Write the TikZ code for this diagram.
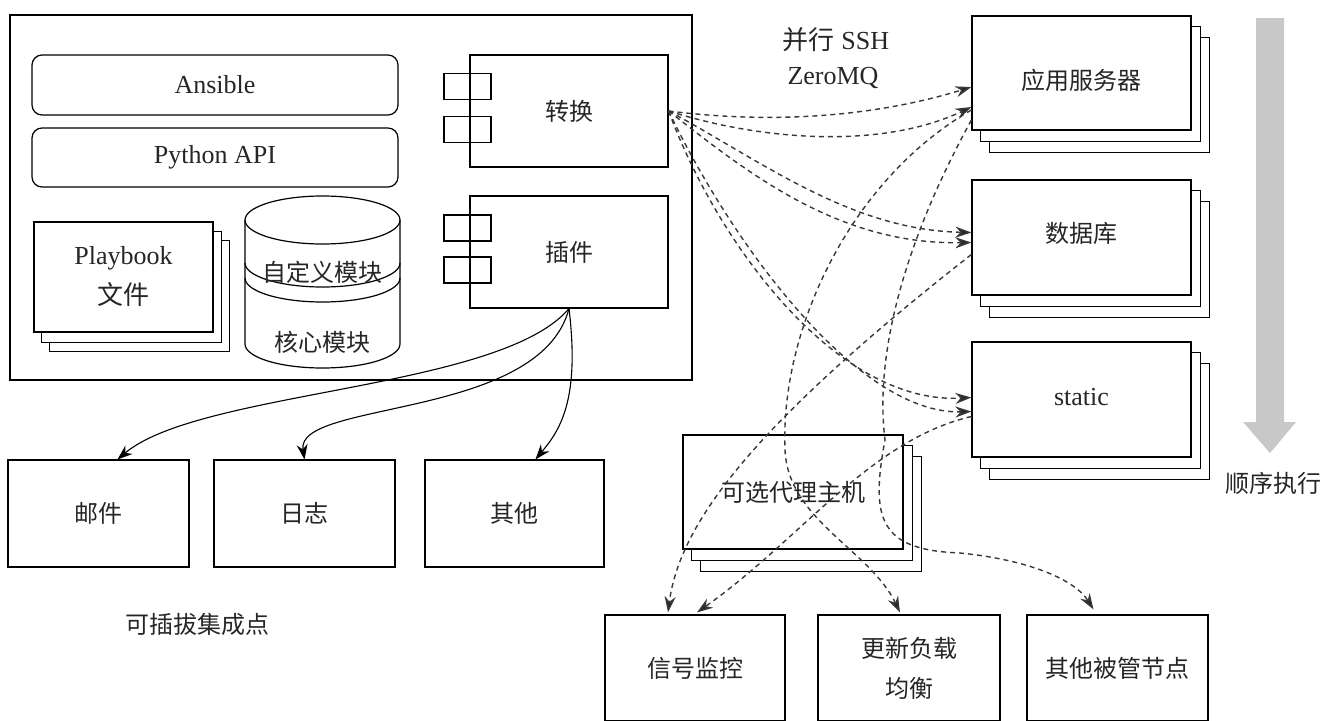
\documentclass[tikz,border=0pt]{standalone}
\usepackage{fontspec}
\setmainfont{Liberation Serif}
\newfontfamily\cjk{Noto Sans CJK SC}
\usetikzlibrary{arrows.meta,calc,backgrounds}
\begin{document}
\begin{tikzpicture}[x=1pt,y=-1pt,line width=1.2pt,
  box/.style={draw, fill=white, inner sep=0pt, text=black!85},
  zh/.style={font=\cjk\fontsize{24}{28}\selectfont, text=black!85},
  en/.style={font=\fontsize{26}{30}\selectfont, text=black!85},
  backsheet/.style={draw, fill=white},
  solidarr/.style={-{Stealth[length=15pt,width=11pt]}, line width=1.1pt},
  dasharr/.style={-{Stealth[length=16pt,width=11pt,fill=black!85]}, dash pattern=on 5pt off 4pt, line width=1.4pt, draw=black!78},
  port/.style={draw, minimum width=47pt, minimum height=26pt, inner sep=0pt},
]
\useasboundingbox (0,0) rectangle (1338,720);

% ---------- left frame ----------
\node[draw, minimum width=682pt, minimum height=365pt, inner sep=0pt] (frame) at (351,197.5) {};
\node[box, rounded corners=10pt, minimum width=366pt, minimum height=60pt, en] (ans) at (215,85) {Ansible};
\node[box, rounded corners=10pt, minimum width=366pt, minimum height=59pt, en] (py) at (215,157.5) {Python API};

% playbook stack
\node[box, minimum width=179pt, minimum height=110pt, align=center, font=\fontsize{26}{40}\selectfont] (pb) at (123.5,277) {Playbook\\{\cjk 文件}};
\begin{scope}[on background layer]
  \draw[backsheet] ($(pb.north west)+(16,19)$) rectangle ($(pb.south east)+(16,19)$);
  \draw[backsheet] ($(pb.north west)+(8,9.5)$) rectangle ($(pb.south east)+(8,9.5)$);
\end{scope}

% cylinder
\draw[fill=white] (245,220) -- (245,344)
  .. controls (245,357.25) and (279.7,368) .. (322.5,368)
  .. controls (365.3,368) and (400,357.25) .. (400,344) -- (400,220);
\draw (322.5,220) ellipse [x radius=77.5, y radius=24];
\draw (245,263) .. controls (245,276.25) and (279.7,287) .. (322.5,287)
  .. controls (365.3,287) and (400,276.25) .. (400,263);
\draw (245,278) .. controls (245,291.25) and (279.7,302) .. (322.5,302)
  .. controls (365.3,302) and (400,291.25) .. (400,278);
\node[zh] (custom) at (322.5,272) {自定义模块};
\node[zh] (core) at (322.5,342) {核心模块};

% transform / plugin
\node[box, minimum width=198pt, minimum height=112pt, zh] (trans) at (569,111) {转换};
\node[port] (tp1) at (467.5,86.5) {};
\node[port] (tp2) at (467.5,129.5) {};
\node[box, minimum width=198pt, minimum height=112pt, zh] (plug) at (569,252) {插件};
\node[port] (pp1) at (467.5,228) {};
\node[port] (pp2) at (467.5,270) {};

% pluggable points
\node[box, minimum width=181pt, minimum height=107pt, zh] (mail) at (98.5,513.5) {邮件};
\node[box, minimum width=181pt, minimum height=107pt, zh] (log) at (304.5,513.5) {日志};
\node[box, minimum width=179pt, minimum height=107pt, zh] (misc) at (514.5,513.5) {其他};
\node[zh] (plugtxt) at (197,624) {可插拔集成点};

\draw[solidarr] (plug.south) .. controls (500,390) and (200,390) .. ($(mail.north)+(19,0)$);
\draw[solidarr] (plug.south) .. controls (540,420) and (295,400) .. (log.north);
\draw[solidarr] (plug.south) .. controls (580,400) and (560,430) .. ($(misc.north)+(21,0)$);

% ---------- managed servers ----------
\node[box, minimum width=219pt, minimum height=114pt, zh] (app) at (1081.5,73) {\raisebox{-7pt}[\height][\depth]{应用服务器}};
\node[box, minimum width=219pt, minimum height=115pt, zh] (db) at (1081.5,237.5) {\raisebox{4pt}[\height][\depth]{数据库}};
\node[box, minimum width=219pt, minimum height=115pt, en] (st) at (1081.5,399.5) {\raisebox{2pt}[\height][\depth]{static}};
\node[box, minimum width=220pt, minimum height=114pt, zh] (proxy) at (793,492) {可选代理主机};
\begin{scope}[on background layer]
  \foreach \n in {app,db,st,proxy}{
    \draw[backsheet] ($(\n.north west)+(18,22)$) rectangle ($(\n.south east)+(18,22)$);
    \draw[backsheet] ($(\n.north west)+(9,11)$) rectangle ($(\n.south east)+(9,11)$);
  }
\end{scope}

\node[box, minimum width=180pt, minimum height=106pt, zh] (sig) at (695,668) {信号监控};
\node[box, minimum width=182pt, minimum height=106pt, align=center, font=\cjk\fontsize{24}{40}\selectfont] (upd) at (909,668) {更新负载\\均衡};
\node[box, minimum width=181pt, minimum height=106pt, zh] (oth) at (1117.5,668) {其他被管节点};

\node[en] (ssh) at (836,40) {{\cjk 并行} SSH};
\node[en] (zmq) at (833,78) {ZeroMQ};

% sequential arrow
\fill[fill={rgb,255:red,200;green,200;blue,200}] (1256,18) -- (1284,18) -- (1284,422) -- (1296,422)
  -- (1270,453) -- (1243,422) -- (1256,422) -- cycle;
\node[zh] (seq) at (1273,483) {顺序执行};

% ---------- dashed connections ----------
\coordinate (appA) at ($(app.west)+(0,14)$);
\coordinate (appB) at ($(app.west)+(0,34)$);
\coordinate (appG) at ($(app.west)+(0,37)$);
\coordinate (appH) at ($(app.west)+(0,47)$);
\coordinate (dbC) at ($(db.west)+(0,-5)$);
\coordinate (dbD) at ($(db.west)+(0,5)$);
\coordinate (dbI) at ($(db.west)+(0,17)$);
\coordinate (stE) at ($(st.west)+(0,-2)$);
\coordinate (stF) at ($(st.west)+(0,12)$);
\coordinate (stJ) at ($(st.west)+(0,17)$);
\coordinate (sigI) at ($(sig.north)+(-27,-2)$);
\coordinate (sigJ) at ($(sig.north)+(2,-2)$);
\coordinate (updG) at ($(upd.north)+(-9,-2)$);
\coordinate (othH) at ($(oth.north)+(-24,-5)$);

\draw[dasharr] (trans.east) .. controls (780,125) and (880,115) .. (appA);
\draw[dasharr] (trans.east) .. controls (760,140) and (880,150) .. (appB);
\draw[dasharr] (trans.east) .. controls (760,160) and (850,230) .. (dbC);
\draw[dasharr] (trans.east) .. controls (750,175) and (840,245) .. (dbD);
\draw[dasharr] (trans.east) .. controls (720,250) and (840,405) .. (stE);
\draw[dasharr] (trans.east) .. controls (735,250) and (860,415) .. (stF);

\draw[dasharr] (appG) .. controls (850,180) and (780,330) .. (785,450)
  .. controls (788,520) and (870,550) .. (updG);
\draw[dasharr] (appH) .. controls (900,250) and (875,360) .. (885,440)
  .. controls (870,520) and (880,550) .. (960,553)
  .. controls (1030,560) and (1075,580) .. (othH);
\draw[dasharr] (dbI) .. controls (760,420) and (680,520) .. (sigI);
\draw[dasharr] (stJ) .. controls (870,440) and (800,540) .. (sigJ);

\end{tikzpicture}
\end{document}
